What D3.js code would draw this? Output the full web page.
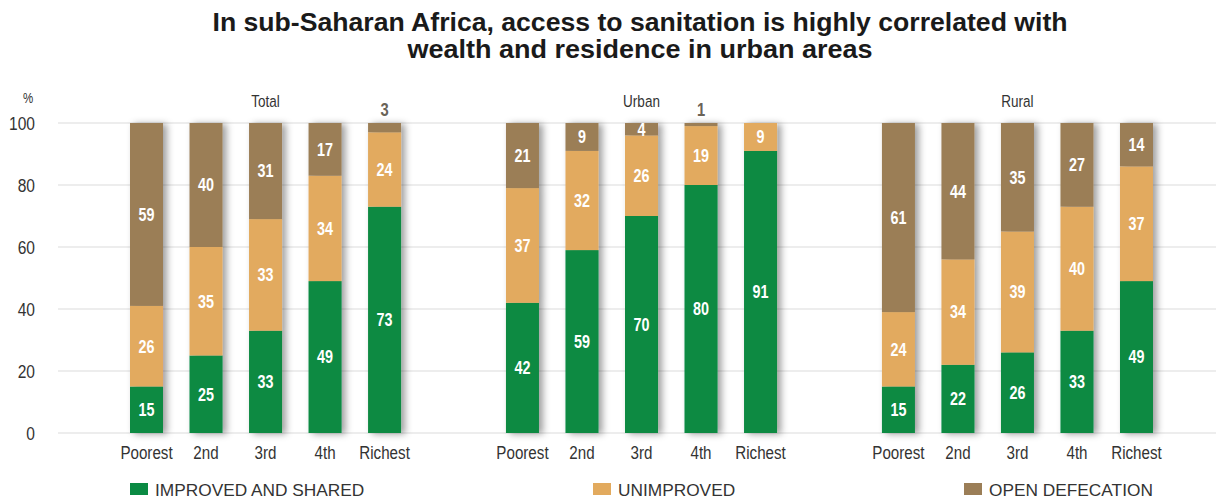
<!DOCTYPE html>
<html>
<head>
<meta charset="utf-8">
<script src="https://cdn.jsdelivr.net/npm/d3@7"></script>
<style>
  html, body { margin: 0; padding: 0; background: #fff; }
  svg { display: block; }
  text { font-family: "Liberation Sans", Arial, sans-serif; }
</style>
</head>
<body>
<svg id="chart" width="1216" height="500"></svg>
<script>
// ---- data ----
const groups = ["Total", "Urban", "Rural"];
const quintiles = ["Poorest", "2nd", "3rd", "4th", "Richest"];
const improved = {
  Total: [15, 25, 33, 49, 73],
  Urban: [42, 59, 70, 80, 91],
  Rural: [15, 22, 26, 33, 49]
};
const unimproved = {
  Total: [26, 35, 33, 34, 24],
  Urban: [37, 32, 26, 19, 9],
  Rural: [24, 34, 39, 40, 37]
};
const openDefecation = {
  Total: [59, 40, 31, 17, 3],
  Urban: [21, 9, 4, 1, 0],
  Rural: [61, 44, 35, 27, 14]
};
const yTicks = [0, 20, 40, 60, 80, 100];
const seriesNames = ["IMPROVED AND SHARED", "UNIMPROVED", "OPEN DEFECATION"];
const seriesColors = ["#0a8a43", "#e2aa5e", "#9b7e57"];
const titleLines = [
  "In sub-Saharan Africa, access to sanitation is highly correlated with",
  "wealth and residence in urban areas"
];

// ---- layout ----
const svg = d3.select("#chart");
const W = 1216;
const NARROW = 0.82;
const defs = svg.append("defs");
const f = defs.append("filter").attr("id", "shadow")
  .attr("x", "-30%").attr("y", "-5%").attr("width", "180%").attr("height", "110%");
f.append("feDropShadow").attr("dx", 4).attr("dy", 1).attr("stdDeviation", 3.5)
  .attr("flood-color", "#000").attr("flood-opacity", 0.38);

const y = d3.scaleLinear().domain([0, 100]).range([433, 123]);
const xGroup = d3.scaleBand().domain(groups).range([130, 1153]).paddingInner(0.279).paddingOuter(0);
const xBar = d3.scaleBand().domain(quintiles).range([0, xGroup.bandwidth()]).paddingInner(0.4454).paddingOuter(0);

function narrowText(sel, x, yy) {
  return sel.append("text")
    .attr("transform", `translate(${x},${yy}) scale(${NARROW},1)`)
    .attr("text-anchor", "middle");
}

// title
const titleWidths = [855, 465];
svg.append("g").selectAll("text").data(titleLines).join("text")
  .attr("x", 640).attr("y", (d, i) => 31 + i * 27)
  .attr("text-anchor", "middle")
  .attr("font-weight", "bold").attr("font-size", 25)
  .attr("textLength", (d, i) => titleWidths[i])
  .attr("lengthAdjust", "spacingAndGlyphs")
  .attr("fill", "#1a1a1a")
  .text(d => d);

// gridlines
svg.append("g").selectAll("line").data(yTicks).join("line")
  .attr("x1", 58).attr("x2", W)
  .attr("y1", d => y(d)).attr("y2", d => y(d))
  .attr("stroke", "#dcdcdc").attr("stroke-width", 1.2);

// y axis labels via d3 axis
const yAxis = d3.axisLeft(y).tickValues(yTicks).tickSize(0).tickPadding(0);
const ya = svg.append("g").attr("transform", "translate(35,0)").call(yAxis);
ya.select(".domain").remove();
ya.selectAll("text")
  .attr("font-family", null)
  .attr("font-size", 19).attr("fill", "#333")
  .attr("transform", `scale(${NARROW},1)`);
narrowText(svg, 28, 103).attr("font-size", 14).attr("fill", "#333").text("%");

// panels
groups.forEach(g => {
  const gx = xGroup(g);
  const pg = svg.append("g").attr("transform", `translate(${gx},0)`);
  narrowText(pg, xGroup.bandwidth() / 2, 107)
    .attr("font-size", 16.5).attr("fill", "#333").text(g);

  const rows = quintiles.map((q, i) => {
    const a = improved[g][i], o = openDefecation[g][i], u = unimproved[g][i];
    return { q, segs: [
      { s: 0, v: a, y0: 0, y1: a },
      { s: 1, v: u, y0: a, y1: 100 - o },
      { s: 2, v: o, y0: 100 - o, y1: 100 }
    ]};
  });

  const bars = pg.selectAll("g.bar").data(rows).join("g").attr("class", "bar")
    .attr("transform", d => `translate(${xBar(d.q)},0)`);

  bars.append("g").attr("filter", "url(#shadow)")
    .selectAll("rect").data(d => d.segs.filter(s => s.v > 0)).join("rect")
    .attr("x", 0).attr("width", xBar.bandwidth())
    .attr("y", s => y(s.y1)).attr("height", s => y(s.y0) - y(s.y1))
    .attr("fill", s => seriesColors[s.s]);

  bars.selectAll("text.val").data(d => d.segs.filter(s => s.v > 0)).join("text")
    .attr("class", "val")
    .attr("transform", s => `translate(${xBar.bandwidth() / 2},${s.v <= 3 ? 110 : y((s.y0 + s.y1) / 2)}) scale(${NARROW},1)`)
    .attr("dy", "0.36em")
    .attr("text-anchor", "middle")
    .attr("font-size", s => s.v <= 3 ? 18 : 17.5)
    .attr("font-weight", "bold")
    .attr("fill", s => s.v <= 3 ? "#6a6357" : "#fff")
    .text(s => s.v);

  bars.each(function(d) {
    narrowText(d3.select(this), xBar.bandwidth() / 2, 459)
      .attr("font-size", 18.5).attr("fill", "#333").text(d.q);
  });
});

// legend
const legendX = [130, 593, 964];
const lg = svg.append("g").selectAll("g").data(seriesNames).join("g")
  .attr("transform", (d, i) => `translate(${legendX[i]},483)`);
lg.append("rect").attr("width", 18).attr("height", 12).attr("fill", (d, i) => seriesColors[i]);
lg.append("text").attr("x", 25).attr("y", 12.5)
  .attr("font-size", 17.3).attr("fill", "#333")
  .text(d => d);
</script>
</body>
</html>
